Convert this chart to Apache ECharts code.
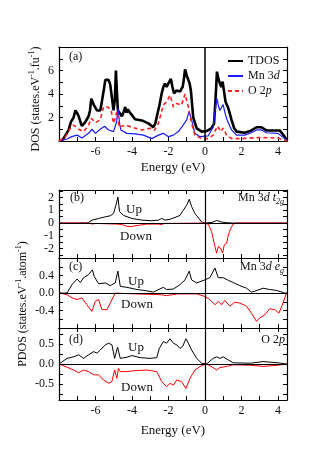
<!DOCTYPE html>
<html>
<head>
<meta charset="utf-8">
<script src="https://cdn.jsdelivr.net/npm/echarts@6/dist/echarts.min.js"></script>
<style>html,body{margin:0;padding:0;background:#fff}#c{width:327px;height:470px}</style>
</head>
<body>
<div id="c"></div>
<script>
// ---------- DATA ----------
// x tick values / labels (eV)
const xTickVals = [-7,-6,-5,-4,-3,-2,-1,0,1,2,3,4];
const xLabelVals = [-6,-4,-2,0,2,4];
// panel (a) tick values
const aTickVals = [1,2,3,4,5,6,7];
const aLabelVals = [2,4,6];
const bTickVals = [-2.5,-2,-1.5,-1,-0.5,0,0.5,1,1.5,2,2.5];
const bLabelVals = [-2,-1,0,1,2];
const cTickVals = [-0.6,-0.4,-0.2,0,0.2,0.4,0.6];
const cLabelVals = [-0.4,0,0.4];
const dTickVals = [-0.75,-0.5,-0.25,0,0.25,0.5,0.75];
const dLabelVals = [-0.5,0,0.5];

// (a) TDOS
const tdosE = [-8.0,-7.8,-7.6,-7.47,-7.35,-7.2,-7.1,-6.98,-6.92,-6.8,-6.74,-6.56,-6.38,-6.3,-6.23,-6.1,-5.92,-5.74,-5.65,-5.55,-5.46,-5.37,-5.28,-5.19,-5.1,-5.01,-4.94,-4.88,-4.82,-4.77,-4.55,-4.45,-4.37,-4.3,-4.22,-4.15,-4.0,-3.83,-3.46,-3.1,-2.83,-2.72,-2.64,-2.5,-2.37,-2.28,-2.19,-2.1,-2.0,-1.87,-1.78,-1.69,-1.55,-1.37,-1.22,-1.15,-1.09,-1.0,-0.91,-0.84,-0.77,-0.64,-0.45,-0.18,0.09,0.37,0.5,0.58,0.66,0.74,0.82,0.9,0.97,1.05,1.13,1.28,1.46,1.6,1.73,2.19,2.55,2.83,3.1,3.37,3.73,4.1,4.37,4.5];
const tdosV = [0,0.1,0.6,0.94,1.6,2.0,2.6,2.3,2.1,1.5,1.28,1.6,2.1,2.6,3.6,3.1,2.6,2.6,3.35,4.3,5.2,5.1,5.2,4.8,4.9,2.6,3.5,6.0,4.0,2.6,2.1,2.5,2.9,2.4,2.7,2.5,2.2,1.85,1.75,1.5,1.17,1.5,2.07,3.0,4.05,4.6,4.9,4.6,4.5,5.3,4.6,4.05,4.3,4.2,4.6,5.3,6.1,5.6,5.2,4.9,4.3,2.0,1.08,0.8,0.85,1.1,1.5,3.5,5.9,5.3,4.9,4.6,5.05,4.2,3.35,2.8,1.8,1.1,0.8,0.7,0.9,1.17,1.17,0.9,0.9,0.9,0.37,0.05];
// (a) Mn 3d
const mnE = [-8.0,-7.6,-7.3,-7.0,-6.74,-6.38,-6.19,-6.0,-5.74,-5.5,-5.28,-5.01,-4.85,-4.76,-4.68,-4.61,-4.28,-3.83,-3.37,-2.91,-2.55,-2.28,-2.0,-1.73,-1.46,-1.19,-1.0,-0.87,-0.73,-0.55,-0.27,0.18,0.45,0.55,0.66,0.74,0.82,0.92,1.0,1.1,1.19,1.46,1.73,2.19,2.55,2.83,3.1,3.37,4.0,4.37,4.5];
const mnV = [0,0.15,0.37,0.5,0.25,0.65,1.0,0.65,1.0,1.25,0.94,0.8,1.6,2.8,1.5,0.94,0.65,0.6,0.5,0.2,0.5,0.65,0.37,0.5,0.8,1.36,1.8,2.5,1.8,0.65,0.37,0.43,1.2,2.5,3.6,3.0,2.6,2.9,3.1,2.4,1.9,0.94,0.5,0.5,0.7,0.94,0.94,0.7,0.65,0.2,0.05];
// (a) O 2p
const oE = [-8.0,-7.65,-7.38,-7.2,-6.92,-6.65,-6.38,-6.23,-6.0,-5.74,-5.56,-5.32,-5.14,-5.01,-4.83,-4.7,-4.37,-4.0,-3.46,-3.0,-2.77,-2.55,-2.28,-2.1,-1.91,-1.73,-1.55,-1.28,-1.09,-0.91,-0.73,-0.55,-0.18,0.18,0.45,0.69,0.87,1.0,1.19,1.46,2.0,3.0,4.0,4.5];
const oV = [0,0.37,1.08,1.36,1.0,0.8,1.36,1.93,1.57,1.8,2.9,2.9,2.6,1.5,2.5,1.17,1.36,1.17,0.94,1.08,0.9,1.5,3.06,3.35,3.9,2.9,3.2,3.06,4.0,2.9,1.5,0.5,0.2,0.2,0.5,1.28,0.8,1.1,0.5,0.2,0.2,0.3,0.25,0];

// (b) Mn 3d t2g
const bUpE = [-8,-6.5,-6.38,-6.19,-5.83,-5.46,-5.19,-5.01,-4.88,-4.77,-4.68,-4.46,-4.0,-3.46,-2.91,-2.55,-2.37,-2.19,-1.91,-1.64,-1.37,-1.19,-1.0,-0.86,-0.73,-0.55,-0.33,-0.18,0,0.4,0.64,0.91,1.2,1.5,4.5];
const bUpV = [0,0,0.05,0.23,0.36,0.49,0.57,0.75,1.4,2.05,0.9,0.6,0.36,0.23,0.18,0.23,0.36,0.23,0.3,0.44,0.6,1.0,1.4,1.87,1.3,0.75,0.36,0.08,0,0.05,0.2,0.08,0.03,0,0];
const bDnE = [-8,-6.3,-6.19,-6.0,-4.83,-4.55,-4.3,-4.1,-3.64,-3.19,-2.55,-2.4,-2.2,0,0.18,0.37,0.51,0.64,0.73,0.86,0.97,1.06,1.19,1.28,1.42,1.55,1.7,4.5];
const bDnV = [0,0,-0.08,-0.03,-0.08,-0.12,-0.25,-0.29,-0.18,-0.08,-0.08,-0.12,-0.03,0,-0.1,-0.68,-1.59,-2.37,-1.85,-1.98,-2.37,-1.72,-1.59,-0.94,-0.42,-0.08,0,0];

// (c) Mn 3d eg
const cUpE = [-8,-7.56,-7.29,-7.01,-6.83,-6.65,-6.38,-6.17,-6.07,-5.83,-5.46,-5.19,-4.92,-4.77,-4.64,-4.28,-3.73,-3.19,-2.83,-2.28,-2.1,-1.73,-1.37,-1.09,-0.86,-0.73,-0.45,0,0.27,0.55,0.73,1.0,1.09,1.28,1.55,1.91,2.28,2.55,2.73,3.19,3.55,3.92,4.37,4.5];
const cUpV = [0,0,0.19,0.32,0.24,0.35,0.42,0.53,0.38,0.21,0.23,0.17,0.23,0.5,0.15,0.13,0.08,0.05,0.02,0.13,0.08,0.09,0.19,0.3,0.5,0.3,0.23,0.3,0.35,0.57,0.35,0.35,0.38,0.29,0.24,0.17,0.11,0.02,0.04,0.11,0.08,0.06,0,0];
const cDnE = [-8,-7.56,-7.29,-7.01,-6.74,-6.47,-6.19,-6.01,-5.83,-5.65,-5.37,-5.19,-4.92,-4.5,-2.4,-2.1,-1.5,-0.45,0,0.27,0.55,0.73,0.91,1.09,1.37,1.64,1.91,2.28,2.55,2.83,3.0,3.28,3.55,3.83,4.06,4.28,4.47,4.5];
const cDnV = [0,-0.04,-0.11,-0.15,-0.11,-0.27,-0.42,-0.19,-0.15,-0.38,-0.38,-0.23,0,-0.01,-0.04,-0.06,-0.02,-0.02,-0.08,-0.15,-0.27,-0.19,-0.27,-0.17,-0.3,-0.21,-0.23,-0.3,-0.46,-0.65,-0.57,-0.5,-0.36,-0.38,-0.46,-0.23,0,0];

// (d) O 2p
const dUpE = [-8,-7.92,-7.56,-7.2,-6.92,-6.65,-6.38,-6.1,-5.92,-5.74,-5.46,-5.28,-5.1,-4.95,-4.79,-4.64,-4.28,-4.0,-3.55,-3.01,-2.64,-2.5,-2.28,-2.1,-1.91,-1.73,-1.55,-1.37,-1.22,-1.04,-0.91,-0.73,-0.45,-0.18,0.09,0.45,0.64,0.82,1.0,1.28,1.55,2.5,3.19,4.0,4.5];
const dUpV = [0,0,0.14,0.18,0.23,0.14,0.23,0.31,0.27,0.35,0.48,0.52,0.48,0.14,0.42,0.14,0.17,0.21,0.16,0.14,0.16,0.39,0.56,0.52,0.63,0.52,0.48,0.39,0.44,0.63,0.52,0.35,0.14,0.02,0,0.14,0.18,0.14,0.18,0.1,0.03,0.02,0.06,0.03,0];
const dDnE = [-8,-7.56,-7.2,-6.92,-6.65,-6.38,-6.1,-5.83,-5.56,-5.28,-5.1,-4.95,-4.83,-4.74,-4.64,-4.28,-3.92,-3.19,-2.64,-2.37,-2.1,-1.91,-1.73,-1.55,-1.28,-1.04,-0.82,-0.55,-0.18,0.09,0.45,0.64,0.82,1.2,1.55,2.5,3.19,4.0,4.5];
const dDnV = [0,-0.08,-0.15,-0.22,-0.15,-0.19,-0.27,-0.27,-0.4,-0.48,-0.44,-0.15,-0.36,-0.11,-0.19,-0.19,-0.17,-0.15,-0.19,-0.44,-0.57,-0.48,-0.53,-0.4,-0.44,-0.61,-0.36,-0.15,-0.04,0,-0.09,-0.15,-0.09,-0.06,-0.02,-0.03,-0.06,-0.03,0];

// ---------- CHART ----------
const FONT = 'Liberation Serif';
const TXT = '#111';
const pairs = (E, V) => E.map((e, i) => [e, V[i]]);
const fmtY1 = v => v.toFixed(1);
const fmtInt = v => String(Math.round(v));

const grids = [
  {left: 59, top: 47, width: 228, height: 94},
  {left: 59, top: 190, width: 228, height: 68},
  {left: 59, top: 258, width: 228, height: 70},
  {left: 59, top: 328, width: 228, height: 72}
];
const yRanges = [[0, 8], [-2.75, 2.6], [-0.8, 0.8], [-0.9, 0.9]];
const yTicks = [aTickVals, bTickVals, cTickVals, dTickVals];
const yLabels = [aLabelVals, bLabelVals, cLabelVals, dLabelVals];
const yFmt = [fmtInt, fmtInt, fmtY1, fmtY1];

const axisLineStyle = {color: '#000', width: 1.2};
const tickStyle = {color: '#000', width: 1};
const labelStyle = {color: TXT, fontFamily: FONT, fontSize: 12, fontWeight: 'normal'};

const xAxes = [], yAxes = [];
grids.forEach((g, i) => {
  const showLab = (i === 0 || i === 3);
  xAxes.push({
    type: 'value', gridIndex: i, min: -8, max: 4.5, position: 'bottom',
    axisLine: {onZero: false, lineStyle: axisLineStyle},
    axisTick: {inside: true, length: 4, customValues: xTickVals, lineStyle: tickStyle},
    axisLabel: Object.assign({show: showLab, customValues: xLabelVals, margin: 5, formatter: fmtInt}, labelStyle),
    splitLine: {show: false},
    name: showLab ? 'Energy (eV)' : '',
    nameLocation: 'middle', nameGap: i === 0 ? 20 : 24,
    nameTextStyle: {color: TXT, fontFamily: FONT, fontSize: 13, fontWeight: 'normal'}
  });
  xAxes.push({
    type: 'value', gridIndex: i, min: -8, max: 4.5, position: 'top',
    axisLine: {onZero: false, lineStyle: axisLineStyle},
    axisTick: {show: i !== 0, inside: true, length: 4, customValues: xTickVals, lineStyle: tickStyle},
    axisLabel: {show: false}, splitLine: {show: false}
  });
  yAxes.push({
    type: 'value', gridIndex: i, min: yRanges[i][0], max: yRanges[i][1], position: 'left',
    axisLine: {onZero: false, lineStyle: axisLineStyle},
    axisTick: {inside: true, length: 4, customValues: yTicks[i], lineStyle: tickStyle},
    axisLabel: Object.assign({customValues: yLabels[i], margin: 5, formatter: yFmt[i]}, labelStyle),
    splitLine: {show: false}
  });
  yAxes.push({
    type: 'value', gridIndex: i, min: yRanges[i][0], max: yRanges[i][1], position: 'right',
    axisLine: {onZero: false, lineStyle: axisLineStyle},
    axisTick: {inside: true, length: 4, customValues: yTicks[i], lineStyle: tickStyle},
    axisLabel: {show: false}, splitLine: {show: false}
  });
});

const vLine = {silent: true, symbol: 'none', animation: false, label: {show: false},
  lineStyle: {color: '#000', width: 1.5, type: 'solid'}, data: [{xAxis: 0}]};
const vhLine = {silent: true, symbol: 'none', animation: false, label: {show: false},
  lineStyle: {color: '#000', width: 1.2, type: 'solid'}, data: [{xAxis: 0}, {yAxis: 0}]};
const hLine = {silent: true, symbol: 'none', animation: false, label: {show: false},
  lineStyle: {color: '#000', width: 1.2, type: 'solid'}, data: [{xAxis: 0}, {yAxis: 0}]};

function line(name, gi, data, color, width, type, extra) {
  return Object.assign({
    name: name, type: 'line', xAxisIndex: gi * 2, yAxisIndex: gi * 2,
    data: data, showSymbol: false, symbol: 'none', smooth: false,
    lineStyle: {color: color, width: width, type: type || 'solid'},
    itemStyle: {color: color}, animation: false
  }, extra || {});
}

const series = [
  line('TDOS', 0, pairs(tdosE, tdosV), '#000', 2.6, 'solid', {markLine: vLine}),
  line('Mn 3d', 0, pairs(mnE, mnV), '#1a1aff', 1.2),
  line('O 2p', 0, pairs(oE, oV), '#ff2020', 1.6, [4, 3]),
  line('bUp', 1, pairs(bUpE, bUpV), '#000', 1, 'solid', {markLine: vhLine}),
  line('bDn', 1, pairs(bDnE, bDnV), '#ff0000', 1),
  line('cUp', 2, pairs(cUpE, cUpV), '#000', 1),
  line('cDn', 2, pairs(cDnE, cDnV), '#ff0000', 1, 'solid', {markLine: hLine}),
  line('dUp', 3, pairs(dUpE, dUpV), '#000', 1),
  line('dDn', 3, pairs(dDnE, dDnV), '#ff0000', 1, 'solid', {markLine: hLine})
];

const legendRich = {
  r: {fontFamily: FONT, fontSize: 12, color: TXT},
  i: {fontFamily: FONT, fontSize: 12, color: TXT, fontStyle: 'italic'}
};
const legendNames = {'TDOS': '{r|TDOS}', 'Mn 3d': '{r|Mn 3}{i|d}', 'O 2p': '{r|O 2}{i|p}'};

function txt(x, y, text, align, extra) {
  return {type: 'text', x: x, y: y, silent: true,
    style: Object.assign({text: text, fill: TXT, font: '12px "' + FONT + '"',
      align: align || 'left', verticalAlign: 'middle'}, extra || {})};
}
const rich = {
  r: {fontFamily: FONT, fontSize: 12, fill: TXT, lineHeight: 16, verticalAlign: 'middle'},
  i: {fontFamily: FONT, fontSize: 12, fill: TXT, fontStyle: 'italic', lineHeight: 16, verticalAlign: 'middle'},
  s: {fontFamily: FONT, fontSize: 8, fill: TXT, fontStyle: 'italic', lineHeight: 8, verticalAlign: 'bottom'},
  u: {fontFamily: FONT, fontSize: 8, fill: TXT, lineHeight: 8, verticalAlign: 'top'}
};
function rtxt(x, y, text, align, rot) {
  return {type: 'text', x: x, y: y, rotation: rot || 0, silent: true,
    style: {text: text, rich: rich, align: align, verticalAlign: 'middle', fill: TXT,
      font: '12px "' + FONT + '"'}};
}
const F13 = {font: '13px "' + FONT + '"'};

const graphics = [
  txt(69, 57, '(a)'), txt(70, 198, '(b)'), txt(69, 267, '(c)'), txt(69, 340, '(d)'),
  txt(134, 210, 'Up', 'center', F13),
  txt(136, 237, 'Down', 'center', F13),
  txt(136, 282, 'Up', 'center', F13),
  txt(137, 305, 'Down', 'center', F13),
  txt(136, 348, 'Up', 'center', F13),
  txt(137, 388, 'Down', 'center', F13),
  rtxt(284, 198, '{r|Mn 3}{i|d }{i|t}{s|2g}', 'right'),
  rtxt(284, 267, '{r|Mn 3}{i|d }{i|e}{s|g}', 'right'),
  rtxt(285, 340, '{r|O 2}{i|p}', 'right'),
  rtxt(36, 99, '{r|DOS (states.eV}{u|-1}{r|.fu}{u|-1}{r|)}', 'center', Math.PI / 2),
  rtxt(23, 304, '{r|PDOS (states.eV}{u|-1}{r|.atom}{u|-1}{r|)}', 'center', Math.PI / 2)
];

const chart = echarts.init(document.getElementById('c'), null, {renderer: 'canvas'});
chart.setOption({
  animation: false,
  backgroundColor: '#fff',
  grid: grids,
  xAxis: xAxes,
  yAxis: yAxes,
  legend: {
    data: ['TDOS', 'Mn 3d', 'O 2p'], orient: 'vertical', left: 227, top: 55,
    itemWidth: 15, itemHeight: 10, itemGap: 3, padding: 0,
    itemStyle: {opacity: 0, borderWidth: 0},
    formatter: n => legendNames[n],
    textStyle: {rich: legendRich, fontFamily: FONT, fontSize: 12, color: TXT}
  },
  series: series,
  graphic: graphics
});
</script>
</body>
</html>
